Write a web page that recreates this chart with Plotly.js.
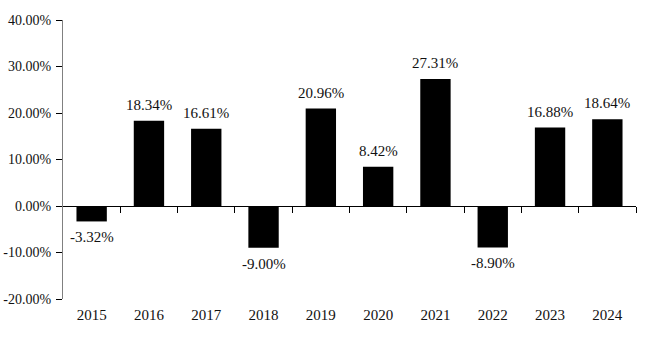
<!DOCTYPE html>
<html><head><meta charset="utf-8">
<script src="https://cdn.plot.ly/plotly-3.0.1.min.js"></script>
<style>html,body{margin:0;padding:0;background:#fff;}#chart{width:663px;height:350px;}</style>
</head><body><div id="chart"></div>
<script>
const years = ["2015","2016","2017","2018","2019","2020","2021","2022","2023","2024"];
const returns = [-3.32, 18.34, 16.61, -9.00, 20.96, 8.42, 27.31, -8.90, 16.88, 18.64];
const yTicks = [-20, -10, 0, 10, 20, 30, 40];

const fam = "Liberation Serif";
const textColor = "#111";

const bars = {
  type: "bar", x: years, y: returns,
  marker: {color: "#000000"}, hoverinfo: "none", showlegend: false
};
const boundaryTicks = years.map((_, i) => i + 0.5);
const dummy = {type: "scatter", x: boundaryTicks, y: boundaryTicks.map(() => 0),
  xaxis: "x2", yaxis: "y", mode: "markers", marker: {opacity: 0}, hoverinfo: "none", showlegend: false};

const annotations = years.map((yr, i) => ({
  x: i, y: returns[i], xref: "x", yref: "y",
  text: returns[i].toFixed(2) + "%", showarrow: false,
  yshift: returns[i] >= 0 ? 16 : -16, font: {family: fam, size: 15, color: textColor}
}));

const layout = {
  width: 663, height: 350,
  margin: {l: 63, r: 27, t: 20, b: 51},
  paper_bgcolor: "#fff", plot_bgcolor: "#fff",
  font: {family: fam, size: 15, color: textColor},
  bargap: 0.47,
  xaxis: {type: "category", showline: false, showgrid: false, zeroline: false,
    ticks: "", ticklabelstandoff: 5, range: [-0.5, 9.5], fixedrange: true,
    tickfont: {family: fam, size: 15, color: textColor}},
  xaxis2: {overlaying: "x", anchor: "free", position: 1/3, range: [-0.5, 9.5],
    showline: true, linecolor: "#000", linewidth: 1, ticks: "outside", ticklen: 6,
    tickcolor: "#000", tickvals: boundaryTicks, showticklabels: false, showgrid: false, zeroline: false},
  yaxis: {range: [-20, 40], tickvals: yTicks, ticktext: yTicks.map(v => v.toFixed(2) + "%"),
    showline: true, linecolor: "#808080", linewidth: 1, ticks: "outside", ticklen: 6,
    tickcolor: "#000", showgrid: false, zeroline: false, ticklabelstandoff: 2,
    tickfont: {family: fam, size: 14, color: textColor}},
  annotations: annotations
};
Plotly.newPlot("chart", [bars, dummy], layout, {staticPlot: true, displayModeBar: false});
</script></body></html>
